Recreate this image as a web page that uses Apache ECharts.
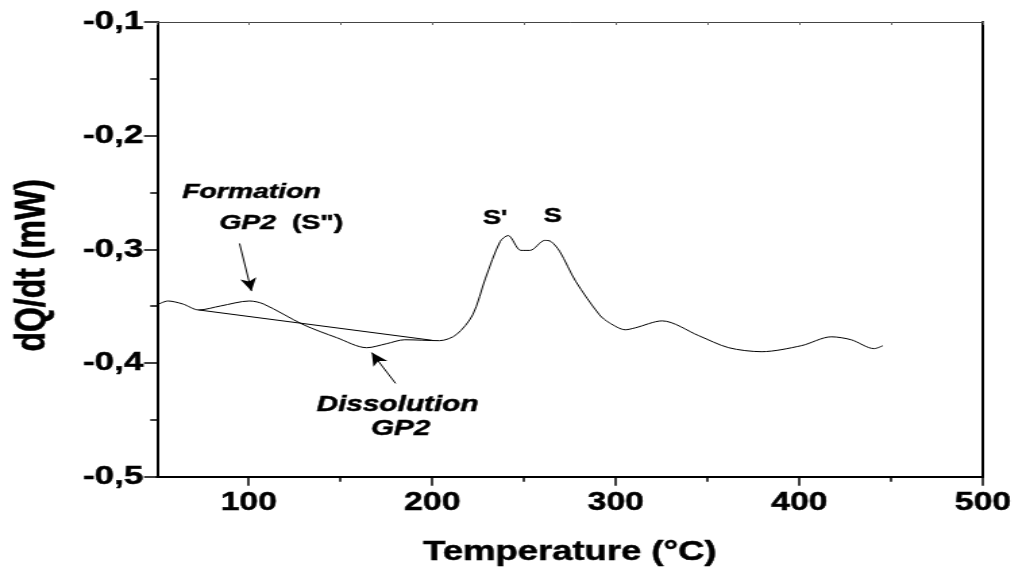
<!DOCTYPE html>
<html>
<head>
<meta charset="utf-8">
<script src="https://cdn.jsdelivr.net/npm/echarts@6/dist/echarts.min.js"></script>
<style>
html,body{margin:0;padding:0;background:#fff;overflow:hidden;}
#c{width:754px;height:571px;transform:scaleX(1.35);transform-origin:0 0;}
</style>
</head>
<body>
<div id="c"></div>
<script>
// ---- data ----
const temps = [50, 56, 64, 72.8, 84.6, 100.4, 108, 130, 148, 164.3, 175, 185, 204, 213, 222, 229, 237, 241.3, 248.3, 253.2, 261.3, 264.6, 269.4, 278.1, 291.1, 296.5, 305.2, 310.6, 325.2, 345.3, 361.5, 379.4, 401.1, 417.4, 428.2, 440.7, 445.5];
const dqdt  = [-0.3489, -0.3454, -0.3480, -0.3533, -0.3498, -0.3454, -0.3480, -0.3664, -0.3777, -0.3865, -0.3830, -0.3795, -0.3803, -0.3751, -0.3576, -0.3253, -0.2930, -0.2878, -0.3009, -0.3009, -0.2921, -0.2930, -0.3017, -0.3280, -0.3576, -0.3646, -0.3707, -0.3690, -0.3629, -0.3760, -0.3865, -0.3900, -0.3847, -0.3769, -0.3795, -0.3873, -0.3847];
const baseT = [72.8, 200];
const baseV = [-0.3533, -0.3800];
const xMajorTicks = [100, 200, 300, 400, 500];
const xMinorTicks = [150, 250, 350, 450];

const curve = temps.map((t, i) => [t, dqdt[i]]);
const baseline = baseT.map((t, i) => [t, baseV[i]]);

const FONT = 'Liberation Sans, Arial, sans-serif';
const chart = echarts.init(document.getElementById('c'));
const txt = (extra) => Object.assign({color: '#000', fontFamily: FONT, fontWeight: 'bold', textBorderColor: '#000', textBorderWidth: 0.5}, extra);

chart.setOption({
  animation: false,
  backgroundColor: '#fff',
  grid: {left: 112.6, right: 25.9, top: 22, bottom: 91, containLabel: false},
  xAxis: [
    {
      type: 'value', position: 'bottom', min: 50, max: 500,
      name: 'Temperature (°C)', nameLocation: 'middle', nameGap: 62,
      nameTextStyle: txt({fontSize: 27}),
      axisLine: {show: true, lineStyle: {color: '#000', width: 2}},
      axisTick: {show: true, customValues: xMajorTicks, length: 9, lineStyle: {color: '#000', width: 1.5}},
      axisLabel: {show: true, customValues: xMajorTicks, margin: 14, ...txt({fontSize: 25})},
      splitLine: {show: false}
    },
    {
      type: 'value', position: 'bottom', min: 50, max: 500,
      axisLine: {show: false},
      axisTick: {show: true, customValues: xMinorTicks, length: 5, lineStyle: {color: '#000', width: 1.5}},
      axisLabel: {show: false},
      splitLine: {show: false}
    },
    {
      type: 'value', position: 'top', min: 50, max: 500, interval: 50,
      axisLine: {show: true, lineStyle: {color: '#444', width: 1}},
      axisTick: {show: true, inside: true, length: 3, lineStyle: {color: '#666', width: 1}},
      axisLabel: {show: false},
      splitLine: {show: false}
    }
  ],
  yAxis: [
    {
      type: 'value', position: 'left', min: -0.5, max: -0.1, interval: 0.1,
      name: 'dQ/dt (mW)', nameLocation: 'middle', nameGap: 76, nameRotate: 90,
      nameTextStyle: txt({fontSize: 32, padding: [0, 32, 0, 0]}),
      axisLine: {show: true, lineStyle: {color: '#000', width: 2}},
      axisTick: {show: true, length: 9.6, lineStyle: {color: '#000', width: 1.5}},
      minorTick: {show: true, splitNumber: 2, length: 5, lineStyle: {color: '#000', width: 1.5}},
      axisLabel: {show: true, margin: 10, formatter: v => v.toFixed(1).replace('.', ','), ...txt({fontSize: 26})},
      splitLine: {show: false}
    },
    {
      type: 'value', position: 'right', min: -0.5, max: -0.1, interval: 0.1,
      axisLine: {show: true, lineStyle: {color: '#000', width: 2}},
      axisTick: {show: false},
      axisLabel: {show: false},
      splitLine: {show: false}
    }
  ],
  series: [
    {
      type: 'line', data: curve, smooth: 0.3, symbol: 'none', silent: true,
      lineStyle: {color: '#000', width: 1},
      markPoint: {
        silent: true, symbol: 'circle', symbolSize: 0,
        label: {show: true, position: 'inside', ...txt({fontSize: 21})},
        data: [
          {coord: [101.5, -0.2493], value: 'Formation', label: {fontStyle: 'italic', formatter: 'Formation'}},
          {coord: [117.7, -0.2773], value: 'GP2', label: {formatter: '{i|GP2}  (S")', rich: {i: txt({fontSize: 21, fontStyle: 'italic'})}}},
          {coord: [234.2, -0.2729], value: "S'", label: {fontSize: 20, formatter: "S'"}},
          {coord: [265.6, -0.2712], value: 'S', label: {fontSize: 20, formatter: 'S'}},
          {coord: [181.1, -0.4365], value: 'Dissolution', label: {fontStyle: 'italic', fontSize: 22, formatter: 'Dissolution'}},
          {coord: [182.7, -0.4580], value: 'GP2', label: {fontStyle: 'italic', fontSize: 22, formatter: 'GP2'}}
        ]
      },
      markLine: {
        silent: true, symbol: ['none', 'arrow'], symbolSize: [9, 13],
        label: {show: false},
        lineStyle: {color: '#000', width: 1, type: 'solid'},
        emphasis: {disabled: true},
        data: [
          [{coord: [95.0, -0.2948]}, {coord: [101.5, -0.3367]}],
          [{coord: [180.0, -0.4179]}, {coord: [167.0, -0.3908]}]
        ]
      }
    },
    {
      type: 'line', data: baseline, symbol: 'none', silent: true,
      lineStyle: {color: '#000', width: 1}
    }
  ]
});
</script>
</body>
</html>
